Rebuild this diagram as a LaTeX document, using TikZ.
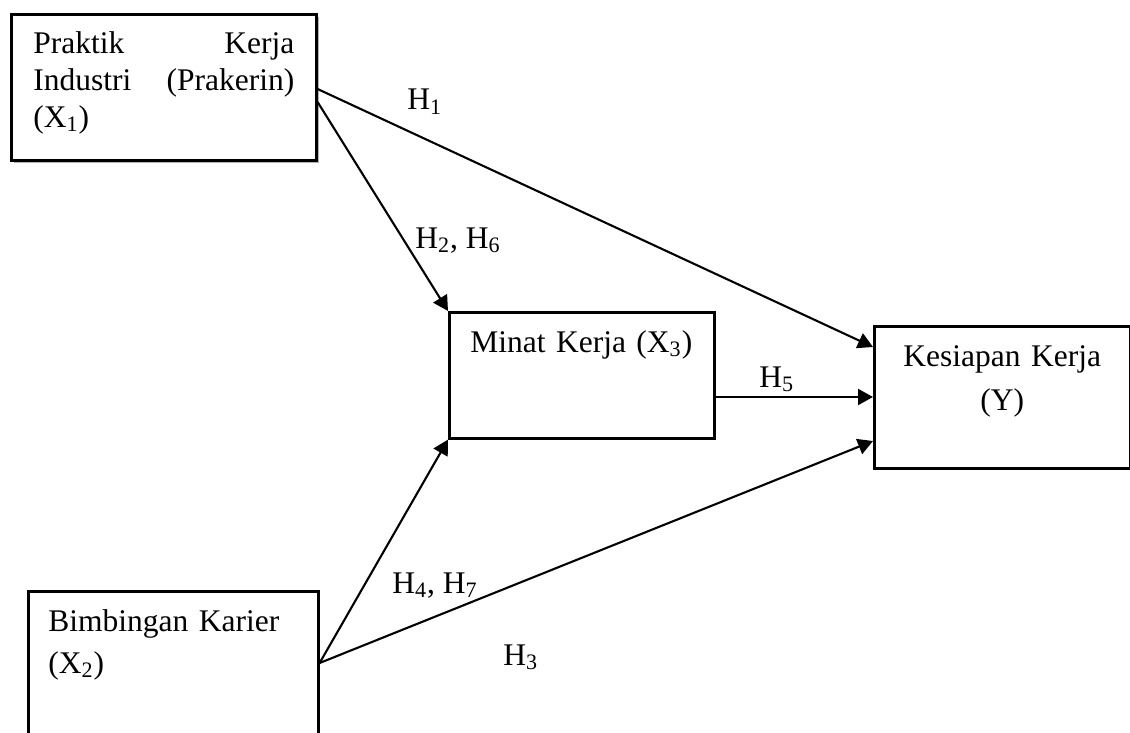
\documentclass[tikz,border=0pt]{standalone}
\usepackage{fontspec}
\setmainfont{Liberation Serif}
\usetikzlibrary{arrows.meta, calc, shadows}

\begin{document}
\begin{tikzpicture}[x=0.5pt, y=-0.5pt,
    box/.style={draw, line width=1.3pt, fill=white, inner ysep=0pt, anchor=north west,
                font=\fontsize{15.75}{18.5}\selectfont},
    hyp/.style={anchor=base west, inner sep=0pt, font=\fontsize{15.75}{18.5}\selectfont},
    arr/.style={-{Triangle[length=7.5pt, width=8pt]}, line width=1.05pt}]
  \clip (0,0) rectangle (1130,733);
  % variables
  \node[box, drop shadow={shadow xshift=1.5pt, shadow yshift=-1.5pt, opacity=0.3, fill=black},
        text width=130.5pt, inner xsep=11pt, text height=19.5pt, text depth=53.5pt, align=left]
        (x1) at (10,13) {Praktik\hfill Kerja\\Industri\hfill (Prakerin)\\(X\textsubscript{1})};
  \node[box, text width=111.5pt, inner xsep=10.5pt, text height=20pt, text depth=43pt, align=left]
        (x3) at (448,311) {Minat Kerja (X\textsubscript{3})};
  \node[box, text width=118pt, inner xsep=5pt, text height=20pt, text depth=51pt, align=center,
        font=\fontsize{15.75}{22}\selectfont]
        (y) at (873,325) {Kesiapan Kerja\\(Y)};
  \node[box, text width=125pt, inner xsep=10pt, text height=20pt, text depth=100pt, align=left,
        font=\fontsize{15.75}{21}\selectfont]
        (x2) at (27,590) {Bimbingan Karier\\(X\textsubscript{2})};

  % paths
  \draw[arr] ($(x1.north east)+(0,76)$) -- ($(y.north west)+(0,22)$);
  \draw[arr] ($(x1.north east)+(0,89)$) -- (x3.north west);
  \draw[arr] ($(x3.north east)+(0,86)$) -- ($(y.north west)+(0,72)$);
  \draw[arr] ($(x2.north east)+(0,73)$) -- (x3.south west);
  \draw[arr] ($(x2.north east)+(0,73)$) -- ($(y.north west)+(0,116)$);

  % hypotheses
  \node[hyp] (h1) at (407,110) {H\textsubscript{1}};
  \node[hyp] (h26) at (415,248) {H\textsubscript{2}, H\textsubscript{6}};
  \node[hyp] (h5) at (759,387) {H\textsubscript{5}};
  \node[hyp] (h47) at (392,593) {H\textsubscript{4}, H\textsubscript{7}};
  \node[hyp] (h3) at (503,665) {H\textsubscript{3}};
\end{tikzpicture}
\end{document}
